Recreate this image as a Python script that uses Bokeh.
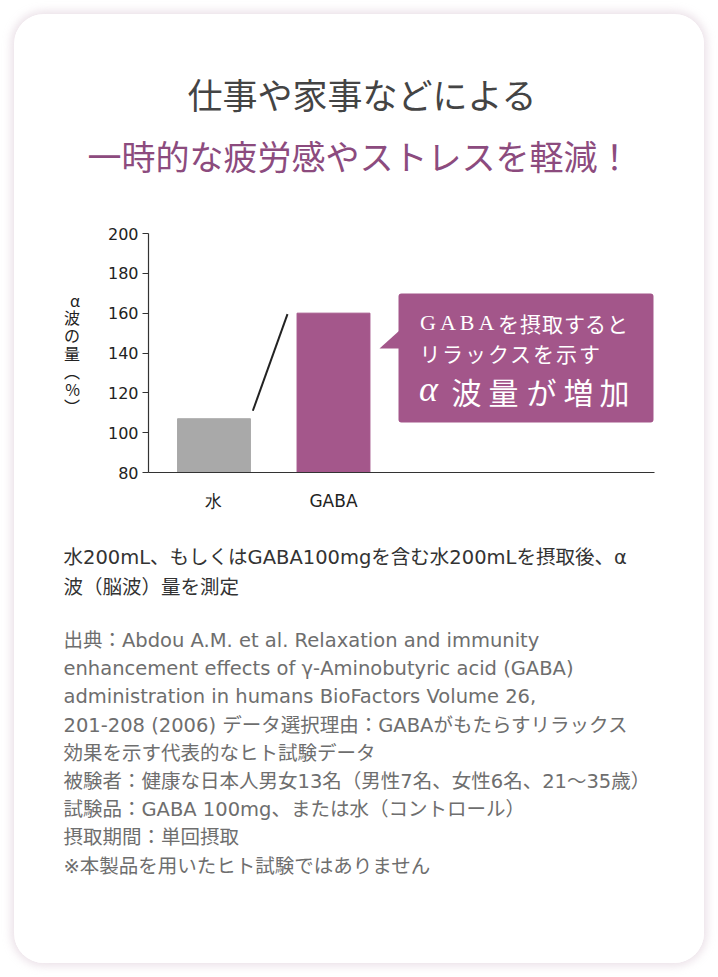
from bokeh.plotting import figure
from bokeh.layouts import column, row
from bokeh.models import Range1d, FixedTicker, BoxAnnotation, Label, ColumnDataSource
from bokeh.embed import file_html
from bokeh.resources import INLINE

# ---------------- data ----------------
categories = ["水", "GABA"]
positions = [1, 2]
values = [107, 160]
bar_colors = ["#a9a9a9", "#a4578b"]
y_ticks = [80, 100, 120, 140, 160, 180, 200]

title1 = "仕事や家事などによる"
title2 = "一時的な疲労感やストレスを軽減！"
y_label_chars = ["α", "波", "の", "量", "︵", "%", "︶"]
bubble_line1 = ["G", "A", "B", "A", "を", "摂", "取", "す", "る", "と"]
bubble_line2 = ["リ", "ラ", "ッ", "ク", "ス", "を", "示", "す"]
bubble_line3 = ["α", "波", "量", "が", "増", "加"]
note_lines = ["水200mL、もしくはGABA100mgを含む水200mLを摂取後、α", "波（脳波）量を測定"]
source_lines = [
    "出典：Abdou A.M. et al. Relaxation and immunity",
    "enhancement effects of γ-Aminobutyric acid (GABA)",
    "administration in humans BioFactors Volume 26,",
    "201-208 (2006) データ選択理由：GABAがもたらすリラックス",
    "効果を示す代表的なヒト試験データ",
    "被験者：健康な日本人男女13名（男性7名、女性6名、21～35歳）",
    "試験品：GABA 100mg、または水（コントロール）",
    "摂取期間：単回摂取",
    "※本製品を用いたヒト試験ではありません",
]

FONT = "Noto Sans CJK JP"
MIXED = "'DejaVu Sans', 'Noto Sans CJK JP'"
SERIF = "Liberation Serif"
CARD_L, CARD_R, CARD_T, CARD_B = 14, 704, 14, 963
BAND1, BAND2 = 215, 515
PURPLE = "#a3568a"


def band(y0, y1):
    f = figure(width=CARD_R - CARD_L, height=y1 - y0, x_range=Range1d(CARD_L, CARD_R),
               y_range=Range1d(y1, y0), min_border=0, toolbar_location=None,
               output_backend="svg", x_axis_location=None, y_axis_location=None)
    f.grid.visible = False
    f.outline_line_color = None
    f.border_fill_color = "white"
    f.background_fill_color = "white"
    return f


def lab(f, x, y, text, size, color, align="left", font=FONT, style="normal", xr=None, yr=None):
    kw = {}
    if xr:
        kw = dict(x_range_name=xr, y_range_name=yr)
    f.add_layout(Label(x=x, y=y, text=text, text_font=font, text_font_size=size,
                       text_color=color, text_align=align, text_baseline="middle",
                       text_font_style=style, **kw))


# ---------------- top band (titles) ----------------
top = band(CARD_T, BAND1)
lab(top, 362, 93, title1, "35px", "#444444", "center")
lab(top, 359, 155, title2, "34px", "#8c4b7e", "center")

# ---------------- chart ----------------
p = figure(width=CARD_R - CARD_L, height=BAND2 - BAND1, output_backend="svg",
           toolbar_location=None, x_range=Range1d(0.452, 4.686), y_range=Range1d(80, 200),
           min_border_left=148 - CARD_L, min_border_right=CARD_R - 654,
           min_border_top=233 - BAND1, min_border_bottom=BAND2 - 472)
p.extra_x_ranges = {"px": Range1d(148, 654)}
p.extra_y_ranges = {"py": Range1d(472, 233)}
p.border_fill_color = "white"
p.background_fill_color = "white"
p.outline_line_color = None
p.grid.visible = False

src = ColumnDataSource(dict(x=positions, top=values, color=bar_colors))
bw = 0.61
p.vbar(x="x", top="top", bottom=80, width=bw, color="color", source=src)

p.segment(x0=[positions[0] + bw / 2 + 0.02], y0=[values[0] + 4],
          x1=[positions[1] - bw / 2 - 0.08], y1=[values[1] - 0.5],
          line_color="#222222", line_width=2)

ya = p.yaxis[0]
ya.ticker = FixedTicker(ticks=y_ticks)
ya.minor_tick_line_color = None
ya.major_tick_in = 0
ya.major_tick_out = 6
ya.major_tick_line_color = "#333333"
ya.axis_line_color = "#333333"
ya.axis_line_width = 1.2
ya.major_label_text_font = "DejaVu Sans"
ya.major_label_text_font_size = "16px"
ya.major_label_text_color = "#222222"
ya.major_label_standoff = 4
ya.axis_label = "\n".join(y_label_chars)
ya.axis_label_orientation = "horizontal"
ya.axis_label_text_font = FONT
ya.axis_label_text_font_style = "normal"
ya.axis_label_text_font_size = "16px"
ya.axis_label_text_color = "#222222"
ya.axis_label_text_line_height = 0.74
ya.axis_label_standoff = 25

xa = p.xaxis[0]
xa.ticker = FixedTicker(ticks=positions)
xa.major_label_overrides = {pos: c for pos, c in zip(positions, categories)}
xa.minor_tick_line_color = None
xa.major_tick_line_color = None
xa.axis_line_color = "#333333"
xa.axis_line_width = 1.2
xa.major_label_text_font = "DejaVu Sans"
xa.major_label_text_font_size = "17px"
xa.major_label_text_color = "#222222"
xa.major_label_standoff = 12

# speech bubble
p.add_layout(BoxAnnotation(left=398, right=653, top=293, bottom=422, x_range_name="px",
                           y_range_name="py", fill_color=PURPLE, fill_alpha=1,
                           line_color=None, border_radius=3))
p.patch(x=[399, 379, 399], y=[330, 348, 348], x_range_name="px", y_range_name="py",
        fill_color=PURPLE, line_color=None)
PX = dict(xr="px", yr="py")
x1 = [427.5, 447.5, 466.5, 486, 508, 530, 552, 574, 595, 617]
for ch, xx in zip(bubble_line1, x1):
    if ch.isascii():
        lab(p, xx, 322, ch, "22px", "white", "center", font=SERIF, **PX)
    else:
        lab(p, xx, 322, ch, "21px", "white", "center", **PX)
x2 = [429.5, 452, 475, 498, 520, 543, 566, 589]
for ch, xx in zip(bubble_line2, x2):
    lab(p, xx, 352, ch, "21px", "white", "center", **PX)
x3 = [428, 466, 503, 541, 578, 614]
for ch, xx in zip(bubble_line3, x3):
    if ch == "α":
        lab(p, xx, 388, ch, "36px", "white", "center", font=SERIF, style="italic", **PX)
    else:
        lab(p, xx, 390, ch, "30px", "white", "center", **PX)

# ---------------- bottom band (notes) ----------------
bot = band(BAND2, CARD_B)
for t, yy in zip(note_lines, [557, 587]):
    lab(bot, 63, yy, t, "19.5px", "#333333", font=MIXED)
for i, t in enumerate(source_lines):
    lab(bot, 63, 640 + i * 28.2, t, "19.5px", "#6e6e6e", font=MIXED)

card = column(top, row(p), bot, margin=(CARD_T, 14, 977 - CARD_B, CARD_L),
              styles={"border-radius": "30px", "overflow": "hidden",
                      "background-color": "white",
                      "box-shadow": "0 0 9px 3px rgba(205,180,198,0.40)"})
open("out.html", "w").write(file_html(card, INLINE))
